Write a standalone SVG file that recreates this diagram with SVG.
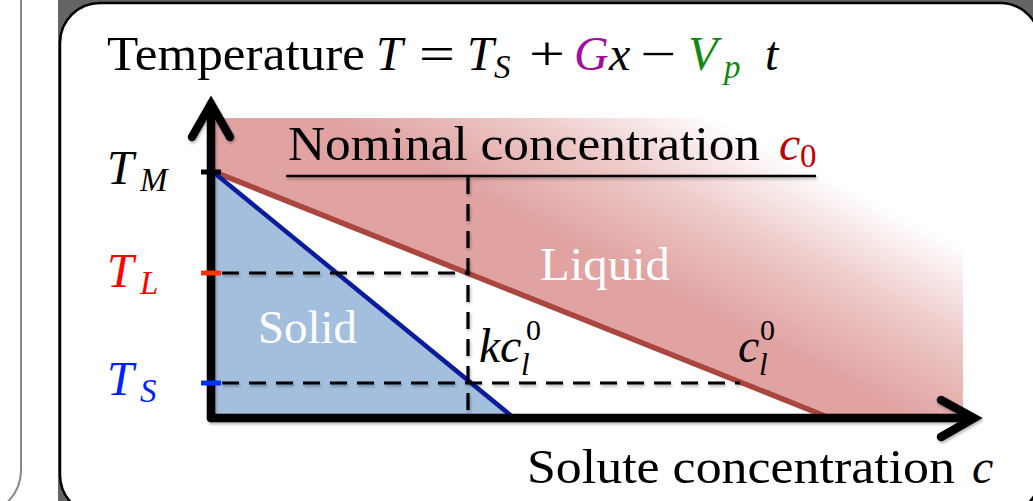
<svg xmlns="http://www.w3.org/2000/svg" width="1033" height="501" viewBox="0 0 1033 501">
<style>
  .rm { font-family: "Liberation Serif", "Times New Roman", serif; font-size: 48px; fill: #000; }
  .it { font-style: italic; }
  .up { font-style: normal; }
  .sub { font-size: 33px; }
  .ss { font-size: 31px; }
  .sp { font-size: 30px; }
  .white { fill: #fff; font-size: 46px; }
  .axis { stroke: #000; stroke-width: 8.5; fill: none; stroke-linecap: round; }
  .arrow { stroke: #000; stroke-width: 8.5; fill: none; stroke-linecap: round; stroke-linejoin: miter; }
  .dash { stroke: #000; stroke-width: 3.2; fill: none; stroke-dasharray: 17 10; }
  .tick { stroke-width: 5; fill: none; }
</style>
<defs>
  <linearGradient id="liq" gradientUnits="userSpaceOnUse" x1="630" y1="272" x2="710" y2="116">
    <stop offset="0" stop-color="#e0a3a2"/>
    <stop offset="0.5" stop-color="#edc9c8"/>
    <stop offset="1" stop-color="#ffffff"/>
  </linearGradient>
  <filter id="sh" x="-5%" y="-5%" width="110%" height="110%">
    <feDropShadow dx="1" dy="2" stdDeviation="1.5" flood-color="#000" flood-opacity="0.3"/>
  </filter>
</defs>

<!-- slide background -->
<rect x="0" y="0" width="1033" height="501" fill="#fff"/>
<rect x="-60" y="-40" width="81" height="553" rx="43" fill="#fff" stroke="#888" stroke-width="2"/>
<rect x="58" y="0" width="975" height="501" fill="#656565"/>
<rect x="60" y="3" width="980" height="512" rx="40" fill="#fff" stroke="#000" stroke-width="2.5"/>

<!-- regions -->
<g id="liquid-region">
  <polygon points="212,118 963,118 963,415 828,415 212,171" fill="url(#liq)"/>
</g>
<g id="solid-region">
  <polygon points="212,171 512,415 212,415" fill="#a4bfdd"/>
</g>

<g id="connectors">
  <line id="liquidus" x1="212" y1="171" x2="830" y2="418" stroke="#a9463f" stroke-width="5.5"/>
  <line id="solidus" x1="212" y1="171" x2="514" y2="418" stroke="#0a1c9c" stroke-width="4.5"/>
  <g filter="url(#sh)">
    <line class="dash" x1="222" y1="273" x2="468" y2="273"/>
    <line class="dash" x1="468" y1="177" x2="468" y2="415"/>
    <line class="dash" x1="222" y1="383" x2="740" y2="383"/>
    <line x1="286" y1="176" x2="816" y2="176" stroke="#000" stroke-width="2.5"/>
  </g>
  <g id="axes" filter="url(#sh)">
    <line class="axis" x1="211" y1="418" x2="211" y2="104"/>
    <line class="axis" x1="211" y1="418" x2="972" y2="418"/>
    <polyline class="arrow" points="192,137 211,104 230,137"/>
    <polyline class="arrow" points="941,400 974,418 941,437"/>
  </g>
  <line class="tick" x1="201" y1="172" x2="221" y2="172" stroke="#000"/>
  <line class="tick" x1="201" y1="273" x2="221" y2="273" stroke="#ff3300"/>
  <line class="tick" x1="201" y1="383" x2="221" y2="383" stroke="#0033ff"/>
</g>

<g id="title">
  <text class="rm" y="70"><tspan x="107" textLength="258" lengthAdjust="spacingAndGlyphs">Temperature</tspan><tspan class="it" x="376">T</tspan><tspan x="419" textLength="36" lengthAdjust="spacingAndGlyphs">=</tspan><tspan class="it" x="467">T</tspan><tspan class="it sub" x="494" y="78">S</tspan><tspan x="529" y="70" textLength="36" lengthAdjust="spacingAndGlyphs">+</tspan><tspan class="it" x="574" style="fill:#a010a0">G</tspan><tspan class="it" x="609">x</tspan><tspan x="640" textLength="36" lengthAdjust="spacingAndGlyphs">−</tspan><tspan class="it" x="688" style="fill:#118811">V</tspan><tspan class="it sub" x="724" y="78" style="fill:#118811">p</tspan><tspan class="it" x="765" y="70">t</tspan></text>
</g>

<g id="nominal">
  <text class="rm" y="160"><tspan x="288" textLength="472" lengthAdjust="spacingAndGlyphs">Nominal concentration</tspan><tspan class="it" x="779" style="fill:#c00000">c</tspan><tspan class="sub" x="800" y="167" style="fill:#c00000">0</tspan></text>
</g>

<g id="label-TM">
  <text class="rm it" y="184"><tspan x="107">T</tspan><tspan class="sub" x="140" y="191">M</tspan></text>
</g>
<g id="label-TL">
  <text class="rm it" y="287" style="fill:#ff0000"><tspan x="107">T</tspan><tspan class="sub" x="140" y="294">L</tspan></text>
</g>
<g id="label-TS">
  <text class="rm it" y="395" style="fill:#0022ff"><tspan x="107">T</tspan><tspan class="sub" x="140" y="402">S</tspan></text>
</g>

<g id="label-liquid">
  <text class="rm white" x="540" y="280" textLength="130" lengthAdjust="spacingAndGlyphs">Liquid</text>
</g>
<g id="label-solid">
  <text class="rm white" x="258" y="343" textLength="99" lengthAdjust="spacingAndGlyphs">Solid</text>
</g>

<g id="label-kcl0">
  <text class="rm it" y="362"><tspan x="479">k</tspan><tspan x="500">c</tspan><tspan class="ss" x="521" y="375">l</tspan><tspan class="sp up" x="526" y="340">0</tspan></text>
</g>
<g id="label-cl0">
  <text class="rm it" y="362"><tspan x="738">c</tspan><tspan class="ss" x="759" y="375">l</tspan><tspan class="sp up" x="760" y="340">0</tspan></text>
</g>

<g id="xlabel">
  <text class="rm" y="483"><tspan x="527" textLength="428" lengthAdjust="spacingAndGlyphs">Solute concentration</tspan><tspan class="it" x="972">c</tspan></text>
</g>
</svg>
